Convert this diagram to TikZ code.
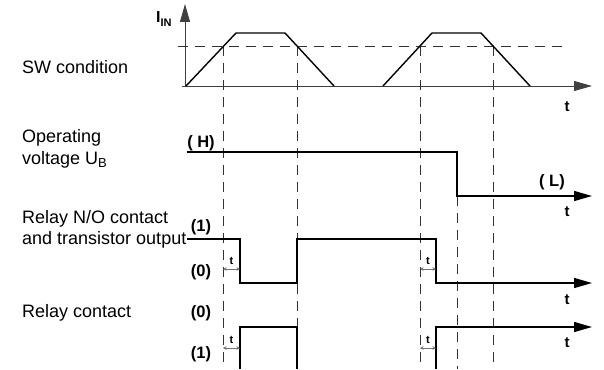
\documentclass[tikz,border=0pt]{standalone}
\usepackage{fontspec}
\setmainfont{Liberation Sans}
\usetikzlibrary{arrows.meta}
\tikzset{
  sig/.style={line width=1.4pt, black},
  axisline/.style={line width=0.9pt, black!75},
  guide/.style={line width=0.9pt, black!80, dash pattern=on 10pt off 7pt},
  bigtip/.style={-{Triangle[length=18pt,width=10pt]}},
  lbl/.style={font=\fontsize{18}{22}\selectfont, inner sep=0pt, anchor=base west},
  lvl/.style={font=\fontsize{16.5}{16}\selectfont\bfseries, inner sep=0pt},
  tlbl/.style={font=\fontsize{15}{15}\selectfont\bfseries, inner sep=0pt},
  small/.style={font=\fontsize{11}{11}\selectfont\bfseries, inner sep=0pt},
  tarrow/.style={line width=0.7pt, black!55, {Stealth[length=3.5pt,width=3.5pt]}-{Stealth[length=3.5pt,width=3.5pt]}}
}
\begin{document}
\begin{tikzpicture}[x=1pt,y=-1pt]
\useasboundingbox (0,0) rectangle (604,369);
% left labels
\node[lbl] (sw) at (22,73) {SW condition};
\node[lbl] (op1) at (22,142) {Operating};
\node[lbl] (op2) at (22,164) {voltage U\raisebox{-3.5pt}{\fontsize{13}{13}\selectfont B}};
\node[lbl] (no1) at (22,223) {Relay N/O contact};
\node[lbl] (no2) at (22,244) {and transistor output};
\node[lbl] (rc) at (22,317) {Relay contact};
% I_IN label
\node[inner sep=0pt, anchor=base west, font=\fontsize{16}{16}\selectfont\bfseries] (iin) at (156,23) {I\raisebox{-4pt}{\fontsize{11}{11}\selectfont IN}};
% axes
\draw[axisline, bigtip] (185,86) -- (185,4);
\draw[axisline, bigtip] (182,86) -- (592,86);
% threshold
\draw[guide] (178,46) -- (568,46);
% vertical guides
\foreach \gx in {223,297,420,493} \draw[guide] (\gx,46) -- (\gx,369);
\draw[guide] (457,196) -- (457,369);
% trapezoids
\draw[sig] (186,86) -- (236,33) -- (285,33) -- (334,86);
\draw[sig] (383,86) -- (432,33) -- (481,33) -- (530,86);
% operating voltage
\draw[sig, bigtip] (187,152) -- (457,152) -- (457,196) -- (592,196);
\node[lvl] (H) at (201,143) {( H)};
\node[lvl] (L) at (552,182) {( L)};
% relay N/O
\draw[sig, bigtip] (187,239) -- (240,239) -- (240,283) -- (297,283) -- (297,239) -- (436,239) -- (436,283) -- (592,283);
% relay contact
\draw[sig] (240,369) -- (240,327) -- (297,327) -- (297,369);
\draw[sig, bigtip] (436,369) -- (436,327) -- (592,327);
% level labels
\node[lvl] (n1) at (201,227) {(1)};
\node[lvl] (n0) at (201,272) {(0)};
\node[lvl] (c0) at (201,313) {(0)};
\node[lvl] (c1) at (201,354) {(1)};
% t labels at axis ends
\node[tlbl] (t1) at (567,107) {t};
\node[tlbl] (t2) at (567,212) {t};
\node[tlbl] (t3) at (567,300) {t};
\node[tlbl] (t4) at (567,343) {t};
% delay markers
\foreach \ya/\yb/\xa/\xb in {269/261/223/240, 348/340/223/240, 269/261/420/436, 348/340/420/436} {
  \draw[tarrow] (\xa,\ya) -- (\xb,\ya);
  \node[small] at ({(\xa+\xb)/2},\yb) {t};
}
\end{tikzpicture}
\end{document}
